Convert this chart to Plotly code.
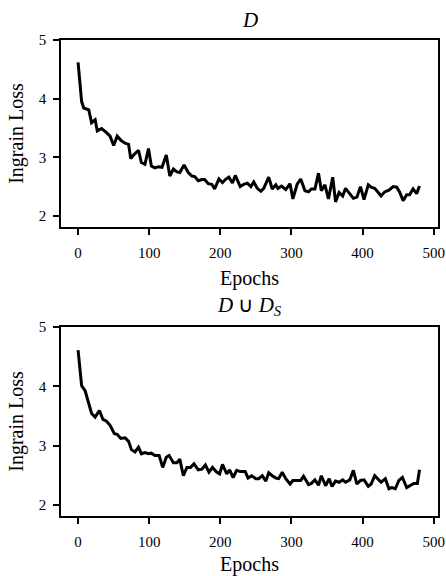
import plotly.graph_objects as go

# Top panel: D
epochs_d = [0, 5, 8, 15, 19, 24, 27, 33, 40, 45, 50, 55, 61, 66, 71, 74, 79, 85, 89, 94,
            99, 103, 108, 113, 118, 124, 129, 134, 139, 143, 149, 155, 160, 164, 169, 174, 178, 183, 188, 192,
            198, 203, 207, 212, 217, 221, 228, 233, 238, 243, 247, 252, 257, 261, 268, 273, 278, 281, 286, 292,
            298, 302, 308, 313, 319, 324, 328, 333, 338, 342, 347, 352, 358, 362, 367, 372, 376, 382, 387, 392,
            397, 402, 408, 412, 417, 422, 426, 431, 437, 443, 448, 452, 457, 462, 466, 471, 476, 480]
loss_d = [4.62, 3.95, 3.84, 3.81, 3.59, 3.64, 3.45, 3.49, 3.42, 3.36, 3.20, 3.36, 3.28, 3.24, 3.22, 2.98, 3.05, 3.12, 2.91, 2.88,
          3.15, 2.85, 2.82, 2.84, 2.83, 3.04, 2.68, 2.80, 2.75, 2.74, 2.87, 2.74, 2.68, 2.67, 2.60, 2.62, 2.62, 2.55, 2.54, 2.46,
          2.63, 2.57, 2.62, 2.66, 2.56, 2.69, 2.50, 2.54, 2.56, 2.50, 2.58, 2.47, 2.42, 2.47, 2.66, 2.46, 2.53, 2.47, 2.51, 2.45,
          2.55, 2.29, 2.54, 2.63, 2.43, 2.41, 2.46, 2.46, 2.73, 2.43, 2.53, 2.29, 2.66, 2.24, 2.40, 2.34, 2.47, 2.37, 2.30, 2.32,
          2.50, 2.28, 2.53, 2.49, 2.47, 2.40, 2.34, 2.41, 2.44, 2.50, 2.49, 2.41, 2.26, 2.36, 2.36, 2.46, 2.38, 2.51]

# Bottom panel: D ∪ D_S
epochs_ds = [0, 5, 10, 15, 19, 24, 30, 35, 40, 45, 51, 55, 60, 66, 71, 75, 80, 85, 89, 94,
             99, 103, 108, 114, 119, 124, 128, 134, 139, 143, 148, 153, 158, 163, 169, 174, 179, 184, 189, 194,
             199, 203, 209, 213, 218, 223, 228, 235, 239, 244, 250, 254, 259, 264, 268, 273, 278, 282, 287, 292,
             298, 302, 308, 313, 317, 324, 328, 333, 338, 342, 348, 353, 357, 362, 367, 372, 376, 382, 387, 392,
             397, 402, 408, 412, 417, 422, 426, 432, 437, 441, 446, 451, 456, 462, 466, 472, 477, 480]
loss_ds = [4.61, 4.01, 3.92, 3.72, 3.54, 3.48, 3.59, 3.44, 3.41, 3.34, 3.20, 3.19, 3.12, 3.13, 3.07, 2.93, 2.89, 2.97, 2.86, 2.88,
           2.86, 2.87, 2.83, 2.83, 2.63, 2.80, 2.83, 2.71, 2.71, 2.77, 2.49, 2.63, 2.63, 2.69, 2.59, 2.60, 2.67, 2.55, 2.63, 2.56,
           2.52, 2.68, 2.52, 2.59, 2.46, 2.58, 2.56, 2.56, 2.45, 2.49, 2.44, 2.44, 2.49, 2.40, 2.54, 2.49, 2.45, 2.44, 2.55, 2.44,
           2.35, 2.41, 2.41, 2.41, 2.48, 2.34, 2.36, 2.42, 2.33, 2.49, 2.32, 2.44, 2.31, 2.40, 2.38, 2.42, 2.38, 2.42, 2.58, 2.35,
           2.41, 2.42, 2.31, 2.35, 2.49, 2.42, 2.38, 2.44, 2.27, 2.29, 2.27, 2.41, 2.46, 2.29, 2.32, 2.36, 2.36, 2.59]

x_ticks = [0, 100, 200, 300, 400, 500]
y_ticks = [2, 3, 4, 5]
titles = ["<i>D</i>", "<i>D</i> ∪ <i>D<sub>S</sub></i>"]

FONT = "Liberation Serif, Times New Roman, Times, serif"

fig = go.Figure()
fig.add_trace(go.Scatter(x=epochs_d, y=loss_d, mode="lines",
                         line=dict(color="black", width=3), xaxis="x", yaxis="y", showlegend=False))
fig.add_trace(go.Scatter(x=epochs_ds, y=loss_ds, mode="lines",
                         line=dict(color="black", width=3), xaxis="x2", yaxis="y2", showlegend=False))

axis_common = dict(showline=True, linecolor="black", linewidth=1.5, mirror=True,
                   ticks="outside", ticklen=6, tickwidth=1.5, tickcolor="black",
                   showgrid=False, zeroline=False, automargin=False,
                   tickfont=dict(family=FONT, size=15, color="black"))

xa = dict(axis_common, range=[-24, 506], tickvals=x_ticks, ticklabelstandoff=5,
          title=dict(text="Epochs", font=dict(family=FONT, size=20, color="black"), standoff=11))
ya = dict(axis_common, range=[1.81, 5], tickvals=y_ticks, ticklabelstandoff=4,
          title=dict(text="Ingrain Loss", font=dict(family=FONT, size=20, color="black"), standoff=10))

fig.update_layout(
    width=446, height=576,
    font=dict(family=FONT, color="black"),
    margin=dict(l=61, r=8, t=40, b=60),
    paper_bgcolor="white", plot_bgcolor="white",
    xaxis=dict(xa, domain=[0, 1], anchor="y"),
    yaxis=dict(ya, domain=[0.607, 1], anchor="x"),
    xaxis2=dict(xa, domain=[0, 1], anchor="y2"),
    yaxis2=dict(ya, domain=[0, 0.397], anchor="x2"),
    annotations=[
        dict(text=titles[0], x=0.5, y=1, xref="paper", yref="paper", xanchor="center", yanchor="bottom",
             yshift=6, showarrow=False, font=dict(family=FONT, size=21, color="black")),
        dict(text=titles[1], x=0.5, y=0.397, xref="paper", yref="paper", xanchor="center", yanchor="bottom",
             yshift=6, showarrow=False, font=dict(family=FONT, size=21, color="black")),
    ],
)

fig.write_html("out.html", config={"displayModeBar": False},
               post_script="document.body.style.margin='0';document.body.style.padding='0';")
